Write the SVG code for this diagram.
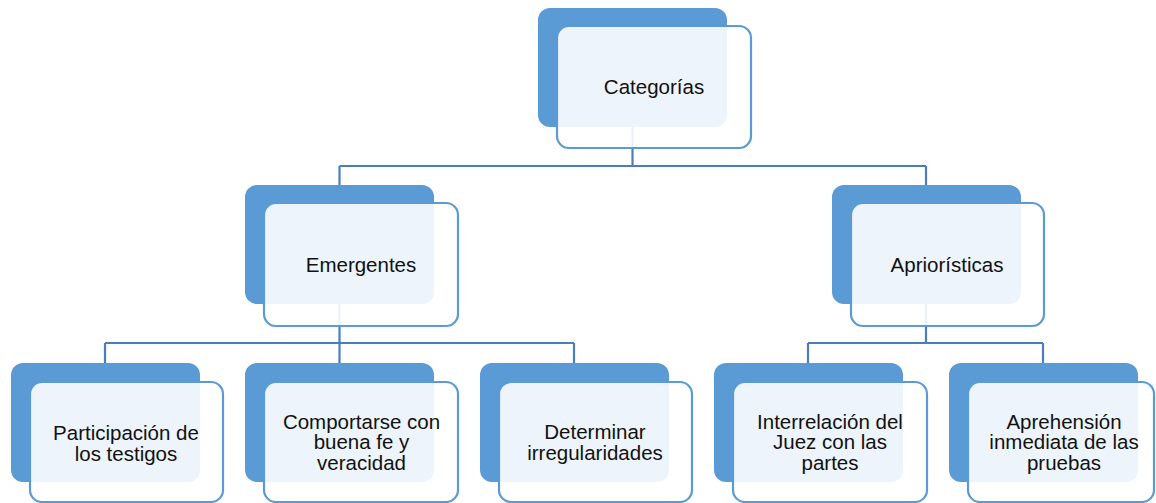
<svg xmlns="http://www.w3.org/2000/svg" width="1156" height="503" viewBox="0 0 1156 503">
  <style>
    .back { fill: #5B9BD5; }
    .front { fill: #FFFFFF; fill-opacity: 0.89; stroke: #5B9BD5; stroke-width: 2.2; }
    .lbl { font-family: "Liberation Sans", Arial, sans-serif; font-size: 20.5px; fill: #111111; text-anchor: middle; }
    .conn { fill: none; stroke: #4A7EBB; stroke-width: 2.2; }
  </style>
  <rect width="1156" height="503" fill="#FFFFFF"/>
  <g id="connectors" class="conn">
    <path d="M632.5 127 V166 M339.5 166 H926 M339.5 166 V185 M926 166 V185"/>
    <path d="M339.5 304 V343 M105 343 H574 M105 343 V363 M339.5 343 V363 M574 343 V363"/>
    <path d="M926 304 V343 M808 343 H1043 M808 343 V363 M1043 343 V363"/>
  </g>
  <g id="node-categorias">
    <rect class="back" x="538" y="8" width="189" height="119" rx="12"/>
    <rect class="front" x="557" y="26" width="194" height="122" rx="12"/>
    <text class="lbl" x="654" y="94">Categorías</text>
  </g>
  <g id="node-emergentes">
    <rect class="back" x="245" y="185" width="189" height="119" rx="12"/>
    <rect class="front" x="264" y="203" width="194" height="123" rx="12"/>
    <text class="lbl" x="361" y="272">Emergentes</text>
  </g>
  <g id="node-aprioristicas">
    <rect class="back" x="832" y="185" width="189" height="119" rx="12"/>
    <rect class="front" x="851" y="203" width="193" height="123" rx="12"/>
    <text class="lbl" x="947" y="272">Apriorísticas</text>
  </g>
  <g id="node-participacion">
    <rect class="back" x="11" y="363" width="189" height="119" rx="12"/>
    <rect class="front" x="30" y="382" width="193" height="120" rx="12"/>
    <text class="lbl" x="126" y="440">Participación de</text>
    <text class="lbl" x="126" y="460.5">los testigos</text>
  </g>
  <g id="node-comportarse">
    <rect class="back" x="245" y="363" width="189" height="119" rx="12"/>
    <rect class="front" x="264" y="382" width="194" height="120" rx="12"/>
    <text class="lbl" x="361.5" y="428.5">Comportarse con</text>
    <text class="lbl" x="361.5" y="449">buena fe y</text>
    <text class="lbl" x="361.5" y="469.5">veracidad</text>
  </g>
  <g id="node-determinar">
    <rect class="back" x="480" y="363" width="189" height="119" rx="12"/>
    <rect class="front" x="499" y="382" width="193" height="120" rx="12"/>
    <text class="lbl" x="595" y="439">Determinar</text>
    <text class="lbl" x="595" y="460">irregularidades</text>
  </g>
  <g id="node-interrelacion">
    <rect class="back" x="714" y="363" width="189" height="119" rx="12"/>
    <rect class="front" x="733" y="382" width="194" height="120" rx="12"/>
    <text class="lbl" x="830" y="428.5">Interrelación del</text>
    <text class="lbl" x="830" y="449">Juez con las</text>
    <text class="lbl" x="830" y="469.5">partes</text>
  </g>
  <g id="node-aprehension">
    <rect class="back" x="949" y="363" width="189" height="119" rx="12"/>
    <rect class="front" x="968" y="382" width="186" height="120" rx="12"/>
    <text class="lbl" x="1064" y="428.5">Aprehensión</text>
    <text class="lbl" x="1064" y="449">inmediata de las</text>
    <text class="lbl" x="1064" y="469.5">pruebas</text>
  </g>
</svg>
